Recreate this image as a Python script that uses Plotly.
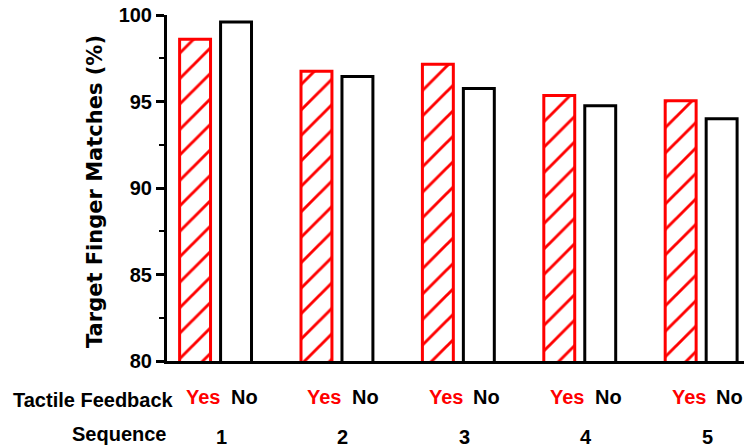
import plotly.graph_objects as go

sequences = ["1", "2", "3", "4", "5"]
yes_values = [98.6, 96.75, 97.15, 95.35, 95.05]
no_values = [99.6, 96.45, 95.75, 94.75, 94.0]
y_ticks = [80, 85, 90, 95, 100]
feedback_labels = ["Yes", "No"]

FONT = "Liberation Sans, Arial, sans-serif"

fig = go.Figure()
fig.add_trace(go.Bar(
    x=sequences, y=yes_values, name="Yes",
    marker=dict(color="white",
                line=dict(color="#ff0000", width=3),
                pattern=dict(shape="/", fgcolor="#ff0000", bgcolor="white",
                             fgopacity=1, size=18, solidity=0.16)),
))
fig.add_trace(go.Bar(
    x=sequences, y=no_values, name="No",
    marker=dict(color="white", line=dict(color="black", width=3)),
))

# Plot area in pixels: left 167, right 744, top 15, bottom 361
L, R, T, B = 167, 744, 15, 361
W, H = 744, 448
pw, ph = R - L, B - T

def px_x(x):
    return (x - L) / pw

def px_y(y):
    return (B - y) / ph

annotations = []
slot = 0.3375
for i, s in enumerate(sequences):
    annotations.append(dict(x=i - slot / 2, y=px_y(397), xref="x", yref="paper",
                            text="<b>" + feedback_labels[0] + "</b>", showarrow=False, xshift=8,
                            font=dict(family=FONT, size=20, color="#ff0000"),
                            xanchor="center", yanchor="middle"))
    annotations.append(dict(x=i + slot / 2, y=px_y(397), xref="x", yref="paper",
                            text="<b>" + feedback_labels[1] + "</b>", showarrow=False, xshift=8,
                            font=dict(family=FONT, size=20, color="black"),
                            xanchor="center", yanchor="middle"))
    annotations.append(dict(x=i, y=px_y(437), xref="x", yref="paper",
                            text="<b>" + s + "</b>", showarrow=False, xshift=6,
                            font=dict(family=FONT, size=20, color="black"),
                            xanchor="center", yanchor="middle"))

annotations.append(dict(x=px_x(176), y=px_y(400), xref="paper", yref="paper",
                        text="<b>Tactile Feedback</b>", showarrow=False,
                        font=dict(family=FONT, size=20, color="black"),
                        xanchor="right", yanchor="middle"))
annotations.append(dict(x=px_x(168), y=px_y(434), xref="paper", yref="paper",
                        text="<b>Sequence</b>", showarrow=False,
                        font=dict(family=FONT, size=20, color="black"),
                        xanchor="right", yanchor="middle"))
annotations.append(dict(x=px_x(95), y=px_y(192), xref="paper", yref="paper",
                        text="<b>Target Finger Matches (%)</b>", showarrow=False,
                        textangle=-90,
                        font=dict(family="DejaVu Sans, sans-serif", size=21, color="black"),
                        xanchor="center", yanchor="middle"))

fig.update_layout(
    width=W, height=H,
    margin=dict(l=L, r=W - R, t=T, b=H - B, pad=0),
    plot_bgcolor="white", paper_bgcolor="white",
    showlegend=False,
    barmode="group",
    bargap=0.325,
    bargroupgap=0.245,
    annotations=annotations,
    xaxis=dict(range=[-0.4, 4.353], showticklabels=False, ticks="",
               showline=True, linecolor="black", linewidth=3,
               showgrid=False, zeroline=False, fixedrange=True),
    yaxis=dict(range=[80, 100], tickvals=y_ticks,
               ticktext=["<b>%d</b>" % v for v in y_ticks],
               ticks="outside", ticklen=8, tickwidth=3, tickcolor="black",
               tickfont=dict(family=FONT, size=20, color="black"),
               minor=dict(tickvals=[82.5, 87.5, 92.5, 97.5], ticks="outside",
                          ticklen=5, tickwidth=2, tickcolor="black", showgrid=False),
               showline=True, linecolor="black", linewidth=3,
               showgrid=False, zeroline=False),
)

fig.write_html("out.html",
               config={"displayModeBar": False},
               post_script="document.body.style.margin='0';document.body.style.padding='0';document.body.style.overflow='hidden';")
